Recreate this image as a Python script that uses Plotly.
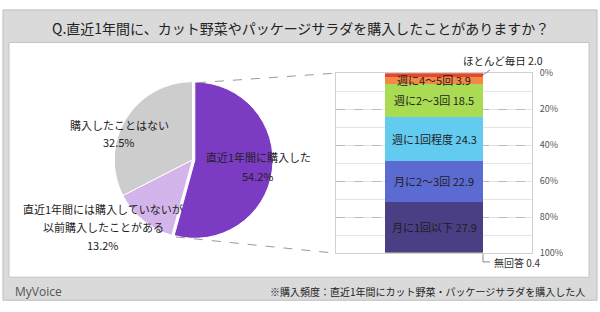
import plotly.graph_objects as go

# ---- data ----
title_text = "Q.直近1年間に、カット野菜やパッケージサラダを購入したことがありますか？"
pie_labels = ["直近1年間に購入した", "直近1年間には購入していないが<br>以前購入したことがある", "購入したことはない"]
pie_values = [54.2, 13.2, 32.5]
pie_colors = ["#7b3bc3", "#d3b5ec", "#cdcdcd"]

freq_labels = ["ほとんど毎日", "週に4～5回", "週に2～3回", "週に1回程度", "月に2～3回", "月に1回以下", "無回答"]
freq_values = [2.0, 3.9, 18.5, 24.3, 22.9, 27.9, 0.4]
freq_colors = ["#e2472f", "#f28a45", "#a9dc52", "#62cbef", "#5b6bd2", "#4a3f85", "#8a8a8a"]

y_ticks = [0, 20, 40, 60, 80, 100]
footer_note = "※購入頻度：直近1年間にカット野菜・パッケージサラダを購入した人"
brand = "MyVoice"

FONT = "Noto Sans CJK JP"
W, H = 600, 312


def px(x):
    return x / W


def py(y):
    return (H - y) / H


fig = go.Figure()

# ---- pie ----
fig.add_trace(go.Pie(
    labels=pie_labels, values=pie_values, sort=False, direction="clockwise", rotation=0,
    marker=dict(colors=pie_colors, line=dict(color="white", width=1)),
    pull=[0.03, 0, 0], textinfo="none", hoverinfo="label+value",
    domain=dict(x=[px(108.5), px(276.5)], y=[py(159.5 + 84), py(159.5 - 84)]),
    showlegend=False,
))

# ---- stacked bar ----
for lab, val, col in zip(freq_labels, freq_values, freq_colors):
    fig.add_trace(go.Bar(
        x=[0], y=[val], name=lab, marker=dict(color=col, line=dict(width=0)),
        width=0.5, xaxis="x2", yaxis="y2", showlegend=False,
        hovertemplate=lab + " %{y}<extra></extra>",
    ))

annotations = []
cum = 0.0
for i, (lab, val) in enumerate(zip(freq_labels, freq_values)):
    mid = cum + val / 2
    if i == 0:
        annotations.append(dict(
            x=0.25, y=mid, xref="x2", yref="y2", text=f"{lab} {val:.1f}",
            showarrow=True, arrowhead=0, arrowwidth=1, arrowcolor="#888888",
            ax=20, ay=-14, font=dict(size=10.5, color="#222222", family=FONT),
        ))
    elif i == len(freq_values) - 1:
        annotations.append(dict(
            x=px(492), y=py(267), xref="paper", yref="paper", xanchor="left", yanchor="middle",
            text=f"{lab} {val:.1f}", showarrow=False,
            font=dict(size=10, color="#333333", family=FONT),
        ))
    else:
        annotations.append(dict(
            x=0, y=mid, xref="x2", yref="y2", text=f"{lab} {val:.1f}", showarrow=False,
            font=dict(size=11, color="#1e1e1e", family=FONT),
        ))
    cum += val

# ---- pie labels ----
pie_label_lines = [
    ([pie_labels[0], f"{pie_values[0]:.1f}%"], 258, [157, 176]),
    (pie_labels[1].split("<br>") + [f"{pie_values[1]:.1f}%"], 103, [211, 230, 248]),
    ([pie_labels[2], f"{pie_values[2]:.1f}%"], 119, [123, 141]),
]
for lines, cx, ys in pie_label_lines:
    for t, yy in zip(lines, ys):
        annotations.append(dict(
            x=px(cx), y=py(yy), xref="paper", yref="paper", text=t, showarrow=False,
            xanchor="center", yanchor="middle", font=dict(size=11, color="#222222", family=FONT),
        ))

# ---- title / footer ----
annotations.append(dict(x=0.5, y=py(22), xref="paper", yref="paper", text=title_text, showarrow=False,
                        xanchor="center", yanchor="middle", font=dict(size=14, color="#222222", family=FONT)))
annotations.append(dict(x=px(13), y=py(297), xref="paper", yref="paper", text=brand, showarrow=False,
                        xanchor="left", yanchor="middle", font=dict(size=12, color="#555555", family="Open Sans")))
annotations.append(dict(x=px(587), y=py(297), xref="paper", yref="paper", text=footer_note, showarrow=False,
                        xanchor="right", yanchor="middle", font=dict(size=10, color="#222222", family=FONT)))

shapes = [
    # outer gray frame
    dict(type="rect", xref="paper", yref="paper", x0=px(3), x1=px(597), y0=py(306), y1=py(3),
         fillcolor="#dadada", line=dict(color="#bdbdbd", width=1), layer="below"),
    # inner white panel
    dict(type="rect", xref="paper", yref="paper", x0=px(9), x1=px(589), y0=py(282), y1=py(37),
         fillcolor="#ffffff", line=dict(color="#c4c4c4", width=1), layer="below"),
    # connectors from pie to bar
    dict(type="line", xref="paper", yref="paper", x0=px(197), y0=py(79), x1=px(336), y1=py(69),
         line=dict(color="#999999", width=1, dash="dash")),
    dict(type="line", xref="paper", yref="paper", x0=px(176), y0=py(240), x1=px(336), y1=py(257),
         line=dict(color="#999999", width=1, dash="dash")),
    # leader for no-answer
    dict(type="path", xref="paper", yref="paper",
         path=f"M {px(483)} {py(258)} L {px(483)} {py(266)} L {px(490)} {py(266)}",
         line=dict(color="#888888", width=1)),
]

fig.update_layout(
    width=W, height=H, margin=dict(l=0, r=0, t=0, b=0),
    paper_bgcolor="white", plot_bgcolor="white",
    barmode="stack", bargap=0,
    font=dict(family=FONT),
    xaxis2=dict(domain=[px(336), px(532)], range=[-0.5, 0.5], anchor="y2",
                showticklabels=False, showgrid=False, zeroline=False,
                showline=True, linecolor="#d0d0d0", linewidth=1, mirror=True, fixedrange=True),
    yaxis2=dict(domain=[py(257), py(69)], range=[100, 0], anchor="x2", side="right",
                tickvals=y_ticks, ticktext=[f"{v}%" for v in y_ticks],
                tickfont=dict(size=9, color="#555555", family=FONT),
                ticks="outside", ticklen=5, tickcolor="rgba(0,0,0,0)",
                showgrid=True, gridcolor="#bcbcbc", griddash="dash", gridwidth=1,
                minor=dict(dtick=10, tick0=0, showgrid=True, gridcolor="#e4e4e4", griddash="solid"),
                zeroline=False, showline=True, linecolor="#d0d0d0", linewidth=1, mirror=True,
                fixedrange=True),
    annotations=annotations, shapes=shapes,
)

fig.write_html("out.html")
